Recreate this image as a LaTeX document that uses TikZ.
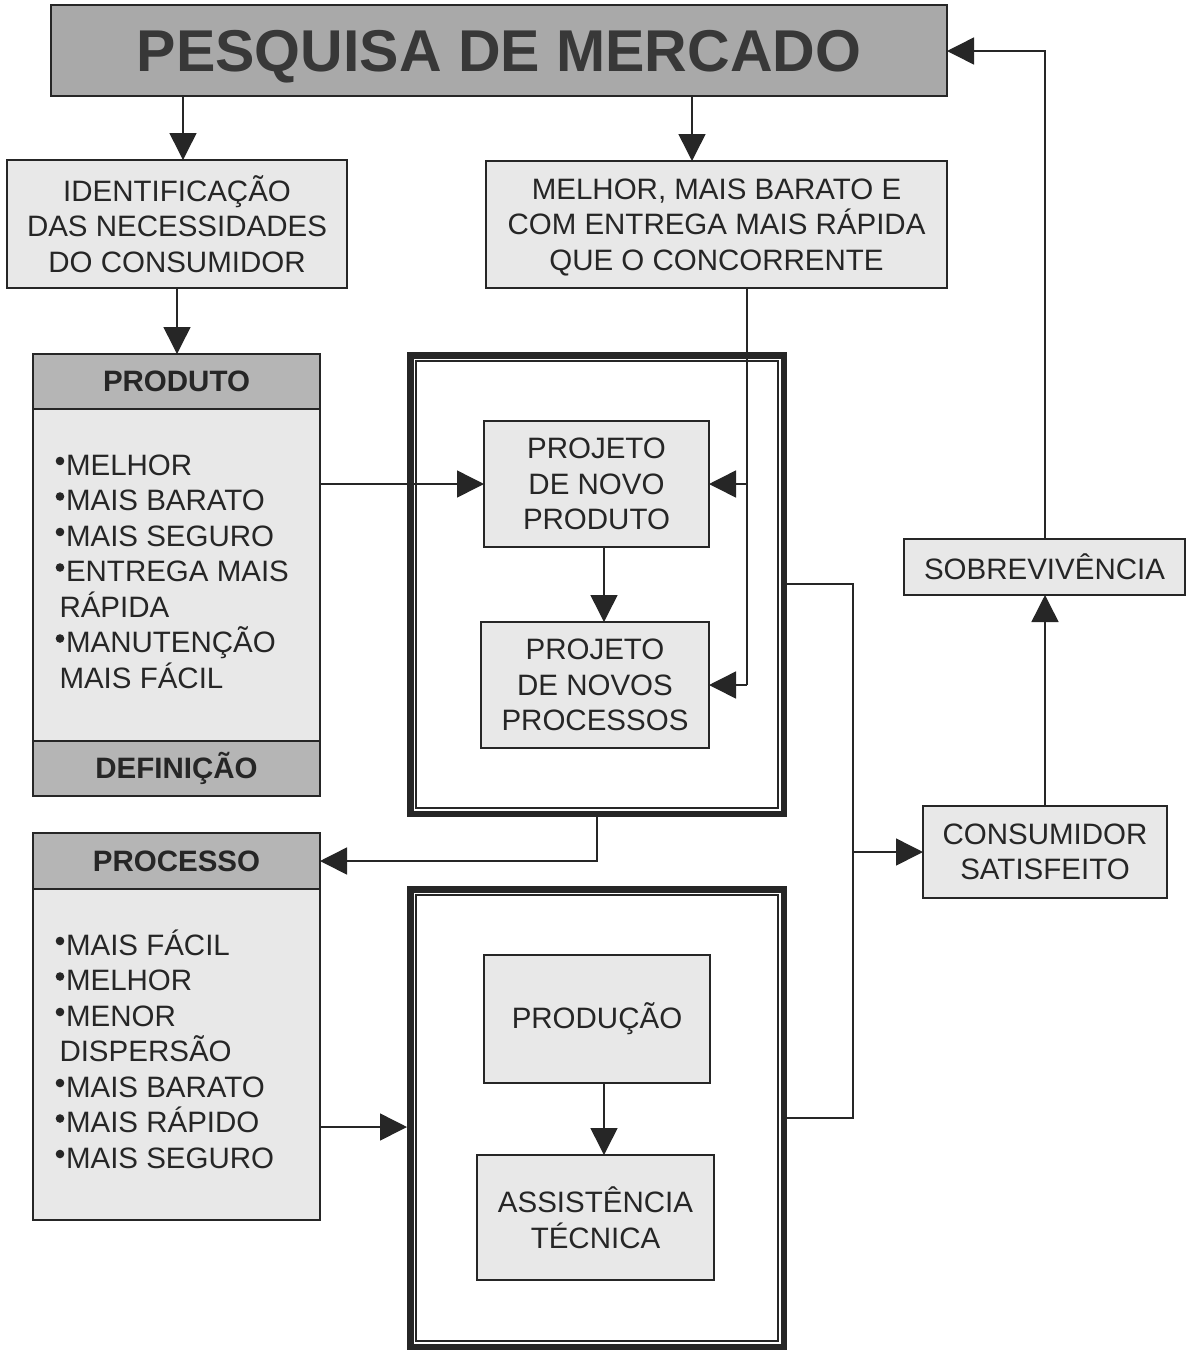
\documentclass[tikz,border=0pt]{standalone}
\usepackage{fontspec}
\setmainfont{Liberation Sans}
\usetikzlibrary{arrows.meta}
\definecolor{titlefill}{HTML}{A9A9A9}
\definecolor{headfill}{HTML}{B5B5B5}
\definecolor{boxfill}{HTML}{E8E8E8}
\definecolor{ink}{HTML}{262626}
\definecolor{titleink}{HTML}{383838}
\begin{document}
\begin{tikzpicture}[x=1pt,y=-1pt,
  box/.style={draw=ink, line width=1.5pt, fill=boxfill, inner sep=0pt, outer sep=0pt, align=center, text=ink, font=\fontsize{29.5}{35.5}\selectfont},
  headbox/.style={box, fill=headfill, font=\bfseries\fontsize{29.5}{35.5}\selectfont},
  item/.style={inner sep=0pt, outer sep=0pt, anchor=base west, text=ink, font=\fontsize{29.5}{35.5}\selectfont},
  frame/.style={draw=none, inner sep=0pt, outer sep=0pt},
  conn/.style={draw=ink, line width=1.5pt},
  arr/.style={conn, -{Triangle[length=27pt,width=27pt]}},
  bulletdot/.style={fill=ink}
]
\fill[white] (0,0) rectangle (1197,1353);
\useasboundingbox (0,0) rectangle (1197,1353);

% title
\node[box, fill=titlefill, minimum width=896pt, minimum height=91pt, text=titleink, text depth=0pt, font=\bfseries\fontsize{59}{59}\selectfont] (title) at (499,50.5) {PESQUISA DE MERCADO};

% top boxes
\node[box, minimum width=340pt, minimum height=128pt] (ident) at (177,224) {IDENTIFICAÇÃO\\DAS NECESSIDADES\\DO CONSUMIDOR};
\node[box, minimum width=461pt, minimum height=127pt] (melhor) at (716.5,224.5) {\vphantom{Á}MELHOR, MAIS BARATO E\\COM ENTREGA MAIS RÁPIDA\\QUE O CONCORRENTE};

% produto column
\node[headbox, minimum width=287pt, minimum height=55pt] (prodh) at (176.5,381.5) {PRODUTO};
\node[box, minimum width=287pt, minimum height=332pt] (prodb) at (176.5,575) {};
\node[headbox, minimum width=287pt, minimum height=55pt] (prodf) at (176.5,768.5) {DEFINIÇÃO};
\foreach \yy in {475,510.5,546,581.5,652.5} \fill[bulletdot] (60,\yy-14) circle (4.3pt);
\node[item] (pi1) at (66,475) {MELHOR};
\node[item] (pi2) at (66,510.5) {MAIS BARATO};
\node[item] (pi3) at (66,546) {MAIS SEGURO};
\node[item] (pi4) at (66,581.5) {ENTREGA MAIS};
\node[item] (pi5) at (59.5,617) {RÁPIDA};
\node[item] (pi6) at (66,652.5) {MANUTENÇÃO};
\node[item] (pi7) at (59.5,688) {MAIS FÁCIL};

% processo column
\node[headbox, minimum width=287pt, minimum height=56pt] (proch) at (176.5,861) {PROCESSO};
\node[box, minimum width=287pt, minimum height=331pt] (procb) at (176.5,1054.5) {};
\foreach \yy in {955,990.5,1026,1097,1132.5,1168} \fill[bulletdot] (60,\yy-14) circle (4.3pt);
\node[item] (qi1) at (66,955) {MAIS FÁCIL};
\node[item] (qi2) at (66,990.5) {MELHOR};
\node[item] (qi3) at (66,1026) {MENOR};
\node[item] (qi4) at (59.5,1061.5) {DISPERSÃO};
\node[item] (qi5) at (66,1097) {MAIS BARATO};
\node[item] (qi6) at (66,1132.5) {MAIS RÁPIDO};
\node[item] (qi7) at (66,1168) {MAIS SEGURO};

% frames
\node[frame, minimum width=380pt, minimum height=465pt] (f1) at (597,584.5) {};
\node[frame, minimum width=380pt, minimum height=464pt] (f2) at (597,1118) {};
\foreach \f in {f1,f2}{
  \draw[draw=ink, line width=6.5pt] ([shift={(3.25,3.25)}]\f.north west) rectangle ([shift={(-3.25,-3.25)}]\f.south east);
  \draw[draw=ink, line width=1.5pt] ([shift={(9,9)}]\f.north west) rectangle ([shift={(-9,-9)}]\f.south east);
}

% inner boxes
\node[box, minimum width=225pt, minimum height=126pt] (pnp) at (596.5,484) {PROJETO\\DE NOVO\\PRODUTO};
\node[box, minimum width=228pt, minimum height=126pt] (pnpr) at (595,685) {PROJETO\\DE NOVOS\\PROCESSOS};
\node[box, minimum width=226pt, minimum height=128pt] (prod) at (597,1019) {PRODUÇÃO};
\node[box, minimum width=237pt, minimum height=125pt] (assist) at (595.5,1217.5) {ASSISTÊNCIA\\TÉCNICA};

% right column
\node[box, minimum width=281pt, minimum height=56pt] (sobrev) at (1044.5,567) {SOBREVIVÊNCIA};
\node[box, minimum width=244pt, minimum height=92pt] (consum) at (1045,852) {CONSUMIDOR\\SATISFEITO};

% connectors
\coordinate (a1) at (183,0);
\coordinate (a2) at (692,0);
\coordinate (a3) at (604,0);
\coordinate (jx) at (747,0);
\coordinate (bx) at (597,0);
\coordinate (cy) at (0,1127);
\coordinate (r1) at (853,584);
\coordinate (r2) at (853,1118);
\coordinate (t1) at (1045,51);

\draw[arr] (title.south -| a1) -- (ident.north -| a1);
\draw[arr] (title.south -| a2) -- (melhor.north -| a2);
\draw[arr] (ident.south) -- (ident.south |- prodh.north);
\draw[arr] (prodb.east |- pnp.west) -- (pnp.west);
\draw[arr] (pnp.south -| a3) -- (pnpr.north -| a3);
\draw[conn] (melhor.south -| jx) -- (jx |- pnpr.east);
\draw[arr] (jx |- pnp.east) -- (pnp.east);
\draw[arr] (jx |- pnpr.east) -- (pnpr.east);
\draw[arr] (f1.south -| bx) |- (proch.east);
\draw[arr] (procb.east |- cy) -- (f2.west |- cy);
\draw[arr] (prod.south -| a3) -- (assist.north -| a3);
\draw[conn] (f1.east |- r1) -- (r1) -- (r2) -- (f2.east |- r2);
\draw[arr] (r1 |- consum.west) -- (consum.west);
\draw[arr] (consum.north) -- (consum.north |- sobrev.south);
\draw[arr] (sobrev.north -| t1) -- (t1) -- (t1 -| title.east);
\end{tikzpicture}
\end{document}
